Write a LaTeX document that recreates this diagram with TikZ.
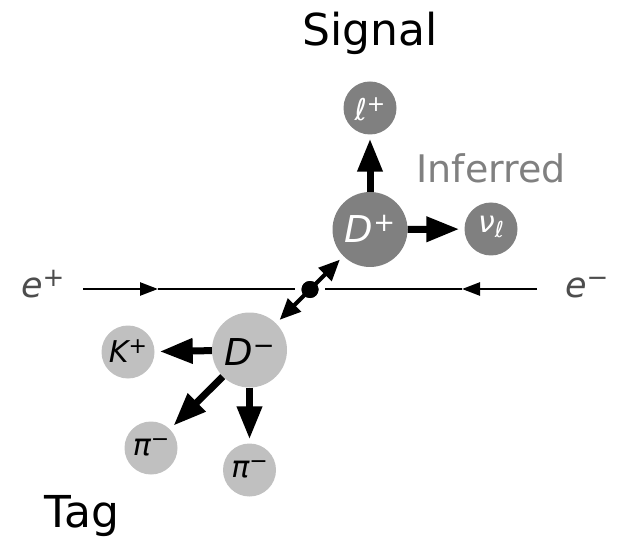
\documentclass[tikz,border=0pt]{standalone}
\usepackage{fontspec}
\setmainfont{DejaVu Sans}
\usetikzlibrary{arrows.meta}
\definecolor{dk}{HTML}{808080}
\definecolor{lt}{HTML}{C0C0C0}
\definecolor{elab}{HTML}{4D4D4D}
\newcommand\bigsup[1]{\raisebox{11pt}{\fontsize{26}{26}\selectfont #1}}
\newcommand\smsup[1]{\raisebox{9pt}{\fontsize{22}{22}\selectfont #1}}
\newcommand\smsub[1]{\raisebox{-5pt}{\fontsize{22}{22}\selectfont #1}}
\tikzset{
  bigball/.style={circle, minimum size=75pt, inner sep=0pt, text depth=0pt,
    font=\fontsize{37}{37}\selectfont},
  smallball/.style={circle, minimum size=53pt, inner sep=0pt, text depth=0pt,
    font=\fontsize{30}{30}\selectfont},
  darkball/.style={fill=dk, text=white},
  lightball/.style={fill=lt, text=black},
  decay/.style={line width=7pt, -{Triangle[length=33pt,width=24pt]}},
  recoil/.style={line width=4pt, -{Triangle[length=21pt,width=18pt]}, shorten >=5pt},
  beam/.style={line width=2.5pt},
  beamarrow/.style={line width=2.5pt, -{Triangle[length=18pt,width=13pt]}},
  title/.style={anchor=base, inner sep=0pt, font=\fontsize{44}{44}\selectfont},
  elabel/.style={anchor=base west, inner sep=0pt, text=elab, font=\fontsize{35}{35}\selectfont}
}
\begin{document}
\begin{tikzpicture}[x=1pt,y=-1pt]
\path[use as bounding box] (0,0) rectangle (618,537);

% titles
\node[title] (sig) at (370,46) {Signal};
\node[title] (tag) at (82,527) {Tag};
\node[anchor=base, inner sep=0pt, text=dk, font=\fontsize{38}{38}\selectfont] (inf) at (491,183) {Inferred};

% beam labels
\node[elabel] (ep) at (21,297) {{\itshape e}\bigsup{+}};
\node[elabel] (em) at (565,297) {{\itshape e}\bigsup{−}};

% beam lines
\coordinate (a1) at (83,289);
\coordinate (a2) at (158,289);
\coordinate (a3) at (295,289);
\coordinate (b1) at (537,289);
\coordinate (b2) at (462,289);
\coordinate (b3) at (325,289);
\draw[beamarrow] (a1) -- (a2);
\draw[beam] (a2) -- (a3);
\draw[beamarrow] (b1) -- (b2);
\draw[beam] (b2) -- (b3);

% signal side
\node[bigball, darkball, text height=27pt] (Dp) at (370,229.5) {{\itshape D}\bigsup{+}};
\node[smallball, darkball, text height=26pt] (lp) at (370,108) {{\itshape ℓ}\smsup{+}};
\node[smallball, darkball, text height=8pt] (nu) at (491,229) {{\itshape ν}\smsub{\itshape ℓ}};

% tag side
\node[bigball, lightball, text height=30pt] (Dm) at (249.5,350) {{\itshape D}\bigsup{−}};
\node[smallball, lightball, text height=20pt] (Kp) at (128,352) {{\itshape K}\smsup{+}};
\node[smallball, lightball, text height=14pt] (pi1) at (151,448) {{\itshape π}\smsup{−}};
\node[smallball, lightball, text height=14pt] (pi2) at (249.5,470) {{\itshape π}\smsup{−}};

% decays
\draw[decay, shorten >=4pt] (Dp) -- (lp);
\draw[decay, shorten >=5pt] (Dp) -- (nu);
\draw[decay, shorten >=5pt] (Dm) -- (Kp);
\draw[decay, shorten >=5pt] (Dm) -- (pi1);
\draw[decay, shorten >=4pt] (Dm) -- (pi2);

% production vertex
\node[circle, fill=black, minimum size=17pt, inner sep=0pt] (vx) at (310,289.5) {};
\draw[recoil] (vx.center) -- (Dp);
\draw[recoil] (vx.center) -- (Dm);
\node[circle, fill=black, minimum size=17pt, inner sep=0pt] at (vx) {};
\end{tikzpicture}
\end{document}
